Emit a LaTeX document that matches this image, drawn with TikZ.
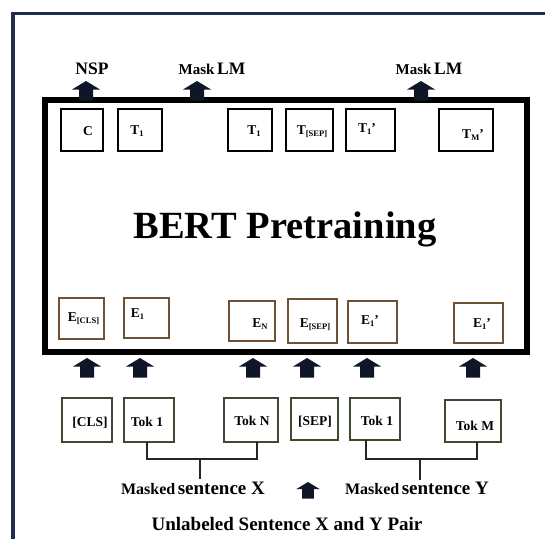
\documentclass[tikz,border=0pt]{standalone}
\usepackage{fontspec}
\setmainfont{Liberation Serif}
\definecolor{navy}{HTML}{1E2E4C}
\definecolor{arrcol}{HTML}{0E1628}
\definecolor{ebrown}{HTML}{6E5236}
\definecolor{tokgreen}{HTML}{3E4B30}
\newcommand\lsub[1]{\raisebox{-0.35ex}{\fontsize{8.5}{9}\selectfont #1}}
\newcommand\mkbox[6]{\node[#6, minimum width={(#4-#2)*1pt}, minimum height={(#5-#3)*1pt}] (#1) at ({(#2+#4)/2},{(#3+#5)/2}) {};}
\begin{document}
\begin{tikzpicture}[x=1pt,y=-1pt,
  basebox/.style={draw, line width=1.6pt, inner sep=0pt, outer sep=0pt, fill=white},
  tbox/.style={basebox, draw=black},
  ebox/.style={basebox, draw=ebrown},
  tokbox/.style={basebox, draw=tokgreen},
  lbl/.style={anchor=base, inner sep=0pt, font=\fontsize{13.5}{14}\selectfont\bfseries},
  big/.style={anchor=base, inner sep=0pt, font=\bfseries},
  brk/.style={draw=black!85, line width=1.8pt},
  uparr/.pic={\fill[arrcol] (0,0) -- (14,8.5) -- (7,8.5) -- (7,19.5) -- (-7,19.5) -- (-7,8.5) -- (-14,8.5) -- cycle;}
]
\useasboundingbox (0,0) rectangle (545,538);
\fill[white] (0,0) rectangle (545,538);
% outer frame (cropped)
\draw[navy, line width=3.5pt] (547,13.5) -- (13,13.5) -- (13,540);
% big box
\node[draw=black, line width=5.5pt, minimum width=482pt, minimum height=252pt, inner sep=0pt] (bert) at (286,226) {};
\node[big, font=\fontsize{38.5}{40}\selectfont\bfseries] (title) at (285,238) {BERT Pretraining};
% top labels
\node[big, font=\fontsize{17.5}{18}\selectfont\bfseries] (nsp) at (92,74) {NSP};
\node[big] (mlm1) at (212,74) {{\fontsize{15}{16}\selectfont Mask} {\fontsize{17.5}{18}\selectfont LM}};
\node[big] (mlm2) at (429,74) {{\fontsize{15}{16}\selectfont Mask} {\fontsize{17.5}{18}\selectfont LM}};
\pic at (86,81) {uparr};
\pic at (197,81) {uparr};
\pic at (421,81) {uparr};
% T boxes
\mkbox{tc}{61}{109}{103}{151}{tbox}
\mkbox{ta}{118}{109}{162}{151}{tbox}
\mkbox{tb}{228}{109}{272}{151}{tbox}
\mkbox{tsep}{286}{109}{333}{151}{tbox}
\mkbox{tp}{346}{109}{395}{151}{tbox}
\mkbox{tm}{439}{109}{493}{151}{tbox}
\node[lbl] (ltc) at (88,135.5) {C};
\node[lbl] (lta) at (137,134) {T\lsub{1}};
\node[lbl] (ltb) at (254,134) {T\lsub{1}};
\node[lbl] (ltsep) at (312,134.5) {T\lsub{[SEP]}};
\node[lbl] (ltp) at (367,132.5) {T\lsub{1}’};
\node[lbl] (ltm) at (473,138.5) {T\lsub{M}’};
% E boxes
\mkbox{ecls}{59}{298}{104}{339}{ebox}
\mkbox{ea}{124}{298}{169}{338}{ebox}
\mkbox{en}{229}{301}{275}{341}{ebox}
\mkbox{esep}{288}{299}{337}{343}{ebox}
\mkbox{ep}{348}{301}{397}{343}{ebox}
\mkbox{eq}{454}{303}{503}{343}{ebox}
\node[lbl] (lecls) at (83.5,321) {E\lsub{[CLS]}};
\node[lbl] (lea) at (137.5,317.5) {E\lsub{1}};
\node[lbl] (len) at (260,327) {E\lsub{N}};
\node[lbl] (lesep) at (315,327) {E\lsub{[SEP]}};
\node[lbl] (lep) at (370,324) {E\lsub{1}’};
\node[lbl] (leq) at (482,327) {E\lsub{1}’};
% arrows into box
\pic at (87,358) {uparr};
\pic at (140,358) {uparr};
\pic at (253,358) {uparr};
\pic at (307,358) {uparr};
\pic at (367,358) {uparr};
\pic at (473,358) {uparr};
% token boxes
\mkbox{kcls}{62}{398}{112}{442}{tokbox}
\mkbox{ka}{124}{398}{174}{442}{tokbox}
\mkbox{kn}{224}{398}{278}{442}{tokbox}
\mkbox{ksep}{291}{398}{338}{440}{tokbox}
\mkbox{kb}{350}{398}{400}{440}{tokbox}
\mkbox{km}{445}{400}{501}{442}{tokbox}
\node[lbl] (lkcls) at (90,426) {[CLS]};
\node[lbl] (lka) at (147,426) {Tok 1};
\node[lbl] (lkn) at (252,425) {Tok N};
\node[lbl] (lksep) at (315,425) {[SEP]};
\node[lbl] (lkb) at (377,425) {Tok 1};
\node[lbl] (lkm) at (475,430) {Tok M};
% brackets
\coordinate (bxl) at (147,459);
\coordinate (bxr) at (257,459);
\coordinate (bxs) at (200,459);
\coordinate (bxe) at (200,479);
\coordinate (byl) at (366,459);
\coordinate (byr) at (477,459);
\coordinate (bys) at (420,459);
\coordinate (bye) at (420,480);
\draw[brk] (ka.south -| bxl) -- (bxl) -- (bxr) -- (kn.south -| bxr);
\draw[brk] (bxs) -- (bxe);
\draw[brk] (kb.south -| byl) -- (byl) -- (byr) -- (km.south -| byr);
\draw[brk] (bys) -- (bye);
\node[big] (sx) at (193,494) {{\fontsize{16}{17}\selectfont Masked} {\fontsize{19}{20}\selectfont sentence X}};
\node[big] (sy) at (417,494) {{\fontsize{16}{17}\selectfont Masked} {\fontsize{19}{20}\selectfont sentence Y}};
\pic[scale=0.85] at (308,482) {uparr};
\node[big, font=\fontsize{19}{20}\selectfont\bfseries] (pair) at (287,530) {Unlabeled Sentence X and Y Pair};
\end{tikzpicture}
\end{document}
